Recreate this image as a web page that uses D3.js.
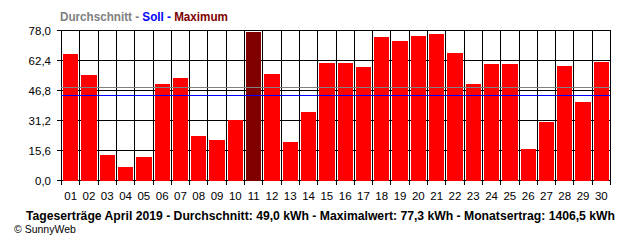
<!DOCTYPE html>
<html>
<head>
  <meta charset="utf-8">
  <title>Tageserträge April 2019</title>
  <style>
    body { margin: 0; background: #fff; }
    text { font-family: "Liberation Sans", Arial, sans-serif; }
  </style>
</head>
<body>

  <script src="https://cdn.jsdelivr.net/npm/d3@7"></script>
  <script type="text/javascript">

  // daily yield (kWh)
  var days = ['01','02','03','04','05','06','07','08','09','10',
              '11','12','13','14','15','16','17','18','19','20',
              '21','22','23','24','25','26','27','28','29','30'];
  var yields = [66.0, 55.1, 13.5, 7.3, 12.5, 50.4, 53.6, 23.4, 21.3, 31.7,
                77.3, 55.6, 20.3, 35.9, 61.4, 61.4, 59.3, 74.9, 72.8, 75.4,
                76.4, 66.6, 50.4, 60.8, 60.8, 16.6, 30.8, 59.8, 41.1, 62.0];
  var yTicks = [0, 15.6, 31.2, 46.8, 62.4, 78.0];
  var average = 48.3,   // Durchschnitt line
      target  = 44.0;   // Soll line
  var footer = 'Tageserträge April 2019 - Durchschnitt: 49,0 kWh - Maximalwert: 77,3 kWh - Monatsertrag: 1406,5 kWh';

  var width = 640, height = 240,
      plotL = 61, plotR = 610, plotT = 30, plotB = 180;

  var svg = d3.select('body')
              .append('svg')
              .attr('width', width)
              .attr('height', height);

  var x = d3.scaleBand().domain(days).range([plotL, plotR]),
      y = d3.scaleLinear().domain([0, 78]).range([plotB, plotT]);

  var maxVal = d3.max(yields);
  var fmt = function(v){ return v.toFixed(1).replace('.', ','); };
  var px = function(v){ return Math.round(v) + 0.5; };

  // horizontal grid (behind bars), sticking out a bit to the left
  svg.append('g')
     .selectAll('line')
     .data(yTicks)
     .enter()
     .append('line')
     .attr('x1', plotL - 4)
     .attr('x2', plotR)
     .attr('y1', function(d){ return px(y(d)); })
     .attr('y2', function(d){ return px(y(d)); })
     .attr('stroke', '#000')
     .attr('shape-rendering', 'crispEdges');

  // vertical grid + ticks under the axis
  var edges = days.map(function(d){ return x(d); }).concat([plotR]);
  svg.append('g')
     .selectAll('line')
     .data(edges)
     .enter()
     .append('line')
     .attr('x1', px)
     .attr('x2', px)
     .attr('y1', plotT)
     .attr('y2', plotB + 5)
     .attr('stroke', '#000')
     .attr('shape-rendering', 'crispEdges');

  // bars
  svg.append('g')
     .selectAll('rect')
     .data(yields)
     .enter()
     .append('rect')
     .attr('x', function(d, i){ return Math.round(x(days[i])) + 2; })
     .attr('width', function(d, i){
        return Math.round(x(days[i]) + x.bandwidth()) - Math.round(x(days[i])) - 3;
     })
     .attr('y', function(d){ return Math.round(y(d)) + 0.5; })
     .attr('height', function(d){ return plotB - Math.round(y(d)); })
     .attr('fill', function(d){ return d === maxVal ? '#800000' : '#ff0000'; })
     .attr('shape-rendering', 'crispEdges');

  // average and target lines on top
  svg.append('line')
     .attr('x1', plotL).attr('x2', plotR)
     .attr('y1', px(y(average))).attr('y2', px(y(average)))
     .attr('stroke', '#808080')
     .attr('shape-rendering', 'crispEdges');
  svg.append('line')
     .attr('x1', plotL).attr('x2', plotR)
     .attr('y1', px(y(target))).attr('y2', px(y(target)))
     .attr('stroke', '#0000ff')
     .attr('shape-rendering', 'crispEdges');

  // y labels
  svg.append('g')
     .selectAll('text')
     .data(yTicks)
     .enter()
     .append('text')
     .attr('x', 51)
     .attr('y', function(d){ return y(d) + 4.5; })
     .attr('text-anchor', 'end')
     .attr('font-size', 11.5)
     .text(fmt);

  // x labels
  svg.append('g')
     .selectAll('text')
     .data(days)
     .enter()
     .append('text')
     .attr('x', function(d){ return x(d) + x.bandwidth() / 2 + 0.5; })
     .attr('y', 200)
     .attr('text-anchor', 'middle')
     .attr('font-size', 11.5)
     .text(function(d){ return d; });

  // legend title
  var legend = svg.append('text')
     .attr('x', 60)
     .attr('y', 21)
     .attr('font-size', 12)
     .attr('font-weight', 'bold')
     .attr('textLength', 168)
     .attr('lengthAdjust', 'spacingAndGlyphs');
  legend.append('tspan').attr('fill', '#808080').text('Durchschnitt - ');
  legend.append('tspan').attr('fill', '#0000ff').text('Soll - ');
  legend.append('tspan').attr('fill', '#800000').text('Maximum');

  // footer
  svg.append('text')
     .attr('x', 26)
     .attr('y', 220)
     .attr('font-size', 12)
     .attr('font-weight', 'bold')
     .attr('textLength', 589)
     .attr('lengthAdjust', 'spacingAndGlyphs')
     .text(footer);

  svg.append('text')
     .attr('x', 14)
     .attr('y', 233)
     .attr('font-size', 10.5)
     .text('© SunnyWeb');

  </script>
</body>
</html>
